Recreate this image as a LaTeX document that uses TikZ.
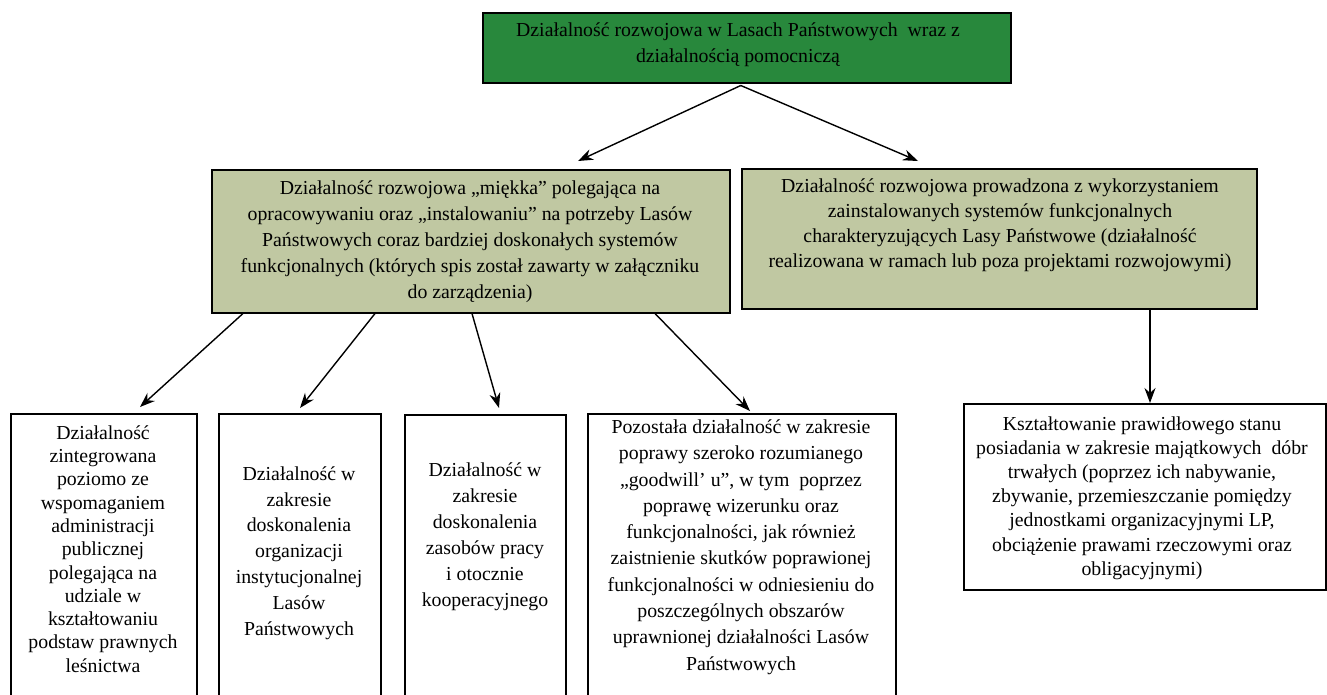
\documentclass[tikz,border=0pt]{standalone}
\usepackage{fontspec}
\setmainfont{Liberation Serif}
\usetikzlibrary{arrows.meta}
\definecolor{topgreen}{RGB}{40,136,60}
\definecolor{midfill}{RGB}{192,200,162}
\tikzset{
  box/.style={draw=black, line width=1.5pt, rectangle, inner sep=0pt, anchor=north west},
  txt/.style={align=center, inner sep=0pt, text=black},
  fs/.style={font=\fontsize{19.8}{#1}\selectfont},
  arr/.style={-{Stealth[length=15pt,width=11pt]}, line width=1.4pt},
}
\begin{document}
\begin{tikzpicture}[x=1pt,y=-1pt]
\useasboundingbox (0,0) rectangle (1327,694);
% boxes
\node[box, fill=topgreen, minimum width=528pt, minimum height=70pt] (top) at (482,12) {};
\node[box, fill=midfill, minimum width=518pt, minimum height=143pt] (mid1) at (211,169) {};
\node[box, fill=midfill, minimum width=515pt, minimum height=140pt] (mid2) at (741,168) {};
\node[box, minimum width=186pt, minimum height=300pt] (b1) at (10,413) {};
\node[box, minimum width=162pt, minimum height=300pt] (b2) at (218,413) {};
\node[box, minimum width=161pt, minimum height=300pt] (b3) at (404,414) {};
\node[box, minimum width=308pt, minimum height=300pt] (b4) at (587,413) {};
\node[box, minimum width=362pt, minimum height=186pt] (b5) at (963,403) {};
% texts
\node[txt, fs=26] (ttop) at (738,45) {Działalność rozwojowa w Lasach Państwowych\ \ wraz z\\działalnością pomocniczą};
\node[txt, fs=26] (tmid1) at (470,242) {Działalność rozwojowa „miękka” polegająca na\\opracowywaniu oraz „instalowaniu” na potrzeby Lasów\\Państwowych coraz bardziej doskonałych systemów\\funkcjonalnych (których spis został zawarty w załączniku\\do zarządzenia)};
\node[txt, fs=25] (tmid2) at (1000,225) {Działalność rozwojowa prowadzona z wykorzystaniem\\zainstalowanych systemów funkcjonalnych\\charakteryzujących Lasy Państwowe (działalność\\realizowana w ramach lub poza projektami rozwojowymi)};
\node[txt, fs=23.3] (tb1) at (103,549) {Działalność\\zintegrowana\\poziomo ze\\wspomaganiem\\administracji\\publicznej\\polegająca na\\udziale w\\kształtowaniu\\podstaw prawnych\\leśnictwa};
\node[txt, fs=25.8] (tb2) at (299,553) {Działalność w\\zakresie\\doskonalenia\\organizacji\\instytucjonalnej\\Lasów\\Państwowych};
\node[txt, fs=26] (tb3) at (485,537) {Działalność w\\zakresie\\doskonalenia\\zasobów pracy\\i otocznie\\kooperacyjnego};
\node[txt, fs=26.3] (tb4) at (741,547) {Pozostała działalność w zakresie\\poprawy szeroko rozumianego\\„goodwill’ u”, w tym\ \ poprzez\\poprawę wizerunku oraz\\funkcjonalności, jak również\\zaistnienie skutków poprawionej\\funkcjonalności w odniesieniu do\\poszczególnych obszarów\\uprawnionej działalności Lasów\\Państwowych};
\node[txt, fs=24.2] (tb5) at (1142,498) {Kształtowanie prawidłowego stanu\\posiadania w zakresie majątkowych\ \ dóbr\\trwałych (poprzez ich nabywanie,\\zbywanie, przemieszczanie pomiędzy\\jednostkami organizacyjnymi LP,\\obciążenie prawami rzeczowymi oraz\\obligacyjnymi)};
% arrows
\draw[arr] ([xshift=-6pt,yshift=-2pt]top.south) -- ([xshift=367pt,yshift=8pt]mid1.north west);
\draw[arr] ([xshift=-6pt,yshift=-2pt]top.south) -- ([xshift=177pt,yshift=7pt]mid2.north west);
\draw[arr] ([xshift=32pt]mid1.south west) -- ([xshift=130pt,yshift=6pt]b1.north west);
\draw[arr] ([xshift=164pt]mid1.south west) -- ([xshift=82pt,yshift=5pt]b2.north west);
\draw[arr] ([xshift=261pt]mid1.south west) -- ([xshift=95pt,yshift=6pt]b3.north west);
\draw[arr] ([xshift=444pt]mid1.south west) -- ([xshift=163pt,yshift=2pt]b4.north west);
\draw[arr] ([xshift=409pt]mid2.south west) -- ([xshift=187pt]b5.north west);
\end{tikzpicture}
\end{document}
